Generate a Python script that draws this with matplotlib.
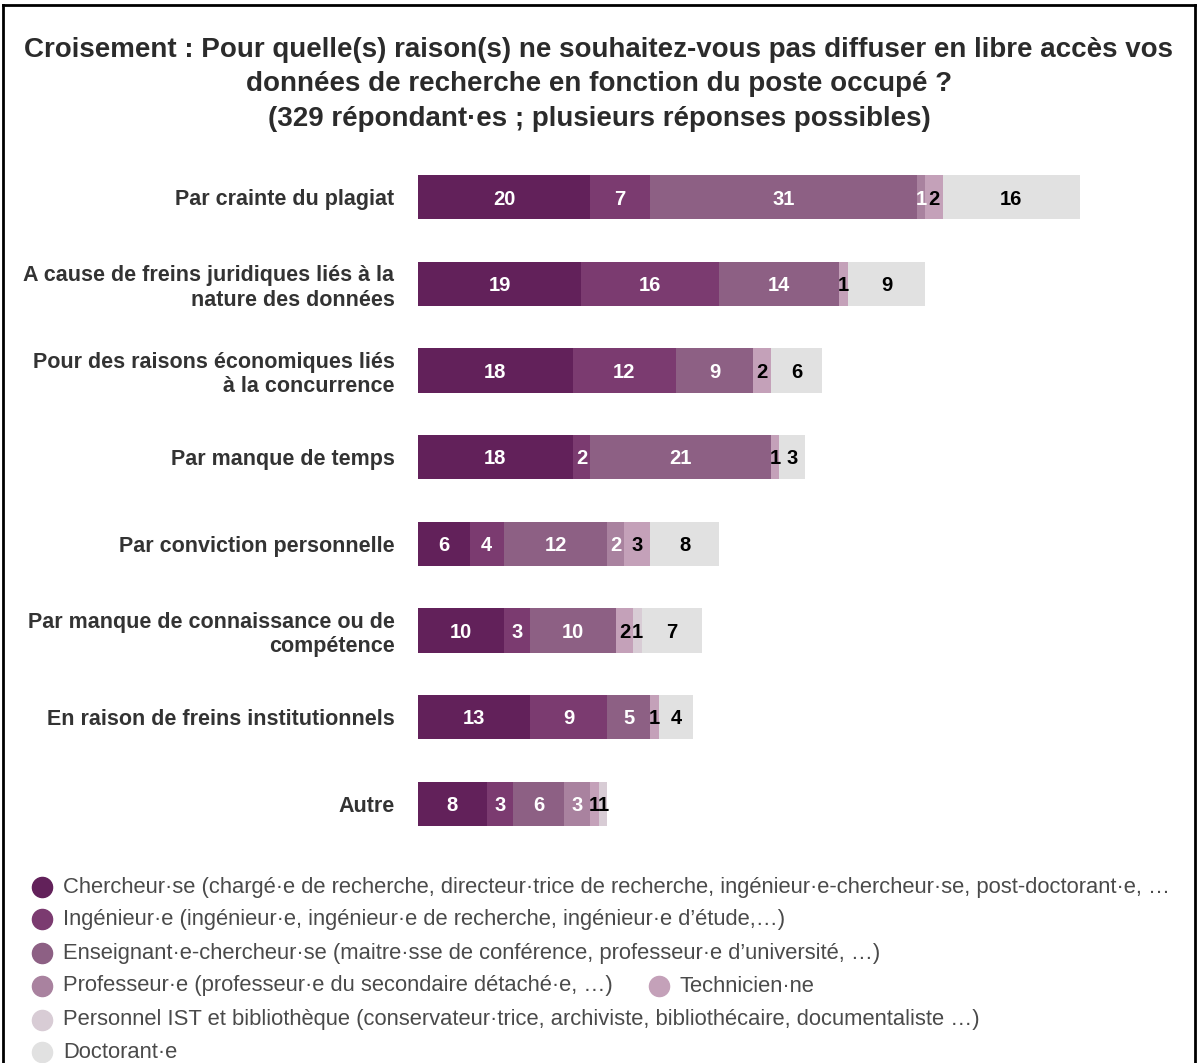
import matplotlib
matplotlib.use("Agg")
import matplotlib.pyplot as plt
from matplotlib.lines import Line2D

plt.rcParams['font.family'] = ['Liberation Sans', 'DejaVu Sans']

categories = [
    "Par crainte du plagiat",
    "A cause de freins juridiques liés à la\nnature des données",
    "Pour des raisons économiques liés\nà la concurrence",
    "Par manque de temps",
    "Par conviction personnelle",
    "Par manque de connaissance ou de\ncompétence",
    "En raison de freins institutionnels",
    "Autre",
]
series_names = [
    "Chercheur·se (chargé·e de recherche, directeur·trice de recherche, ingénieur·e-chercheur·se, post-doctorant·e, …",
    "Ingénieur·e (ingénieur·e, ingénieur·e de recherche, ingénieur·e d’étude,…)",
    "Enseignant·e-chercheur·se (maitre·sse de conférence, professeur·e d’université, …)",
    "Professeur·e (professeur·e du secondaire détaché·e, …)",
    "Technicien·ne",
    "Personnel IST et bibliothèque (conservateur·trice, archiviste, bibliothécaire, documentaliste …)",
    "Doctorant·e",
]
chercheur = [20, 19, 18, 18, 6, 10, 13, 8]
ingenieur = [7, 16, 12, 2, 4, 3, 9, 3]
enseignant = [31, 14, 9, 21, 12, 10, 5, 6]
professeur = [1, 0, 0, 0, 2, 0, 0, 3]
technicien = [2, 1, 2, 1, 3, 2, 1, 1]
ist = [0, 0, 0, 0, 0, 1, 0, 1]
doctorant = [16, 9, 6, 3, 8, 7, 4, 0]

series = [chercheur, ingenieur, enseignant, professeur, technicien, ist, doctorant]
colors = ["#62215a", "#7b3b70", "#8d6084", "#a9829f", "#c4a1b9", "#d8ccd5", "#e1e1e1"]
text_colors = ["white", "white", "white", "white", "black", "black", "black"]

W, H = 1198, 1063
fig = plt.figure(figsize=(W / 100, H / 100), dpi=100)

def fx(px):
    return px / W

def fy(py):
    return 1 - py / H

left_px, right_px, top_px, bottom_px = 418, 1190, 154, 847
ax = fig.add_axes([fx(left_px), fy(bottom_px), fx(right_px - left_px), (bottom_px - top_px) / H])
ax.set_xlim(0, (right_px - left_px) / 8.6)
ax.set_ylim(len(categories) - 0.5, -0.5)

ypos = list(range(len(categories)))
lefts = [0] * len(categories)
for vals, col, tcol in zip(series, colors, text_colors):
    ax.barh(ypos, vals, left=lefts, height=0.51, color=col, edgecolor='none')
    for i, v in enumerate(vals):
        if v > 0:
            ax.text(lefts[i] + v / 2, i + 0.02, str(v), ha='center', va='center',
                    color=tcol, fontsize=14.5, fontweight='bold')
    lefts = [l + v for l, v in zip(lefts, vals)]

ax.set_yticks(ypos)
ax.set_yticklabels(categories, fontsize=15.5, fontweight='bold', color='#333333', linespacing=1.2)
ax.tick_params(axis='y', length=0, pad=17)
ax.set_xticks([])
for s in ax.spines.values():
    s.set_visible(False)

# Title
title_lines = [
    "Croisement : Pour quelle(s) raison(s) ne souhaitez-vous pas diffuser en libre accès vos",
    "données de recherche en fonction du poste occupé ?",
    "(329 répondant·es ; plusieurs réponses possibles)",
]
for py, t in zip([50, 84, 119], title_lines):
    fig.text(0.5, fy(py), t, ha='center', va='center', fontsize=20, fontweight='bold', color='#2b2b2b')

# Legend (manual flow layout)
leg_rows = [
    [(0, 42)],
    [(1, 42)],
    [(2, 42)],
    [(3, 42), (4, 659)],
    [(5, 42)],
    [(6, 42)],
]
row_y = [887, 919, 953, 986, 1020, 1052]
for ry, row in zip(row_y, leg_rows):
    for idx, cx in row:
        fig.add_artist(Line2D([fx(cx)], [fy(ry)], marker='o', markersize=14.5, color=colors[idx],
                              linestyle='none', transform=fig.transFigure))
        fig.text(fx(cx + 21), fy(ry), series_names[idx], ha='left', va='center',
                 fontsize=15.8, color='#4a4a4a')

# Frame border
for xs, ys in [((3, 3), (5, H + 5)), ((3, 1195), (5, 5)), ((1195, 1195), (5, H + 5))]:
    fig.add_artist(Line2D([fx(xs[0]), fx(xs[1])], [fy(ys[0]), fy(ys[1])], color='black',
                          linewidth=2, transform=fig.transFigure))

fig.savefig("out.png", dpi=100)
